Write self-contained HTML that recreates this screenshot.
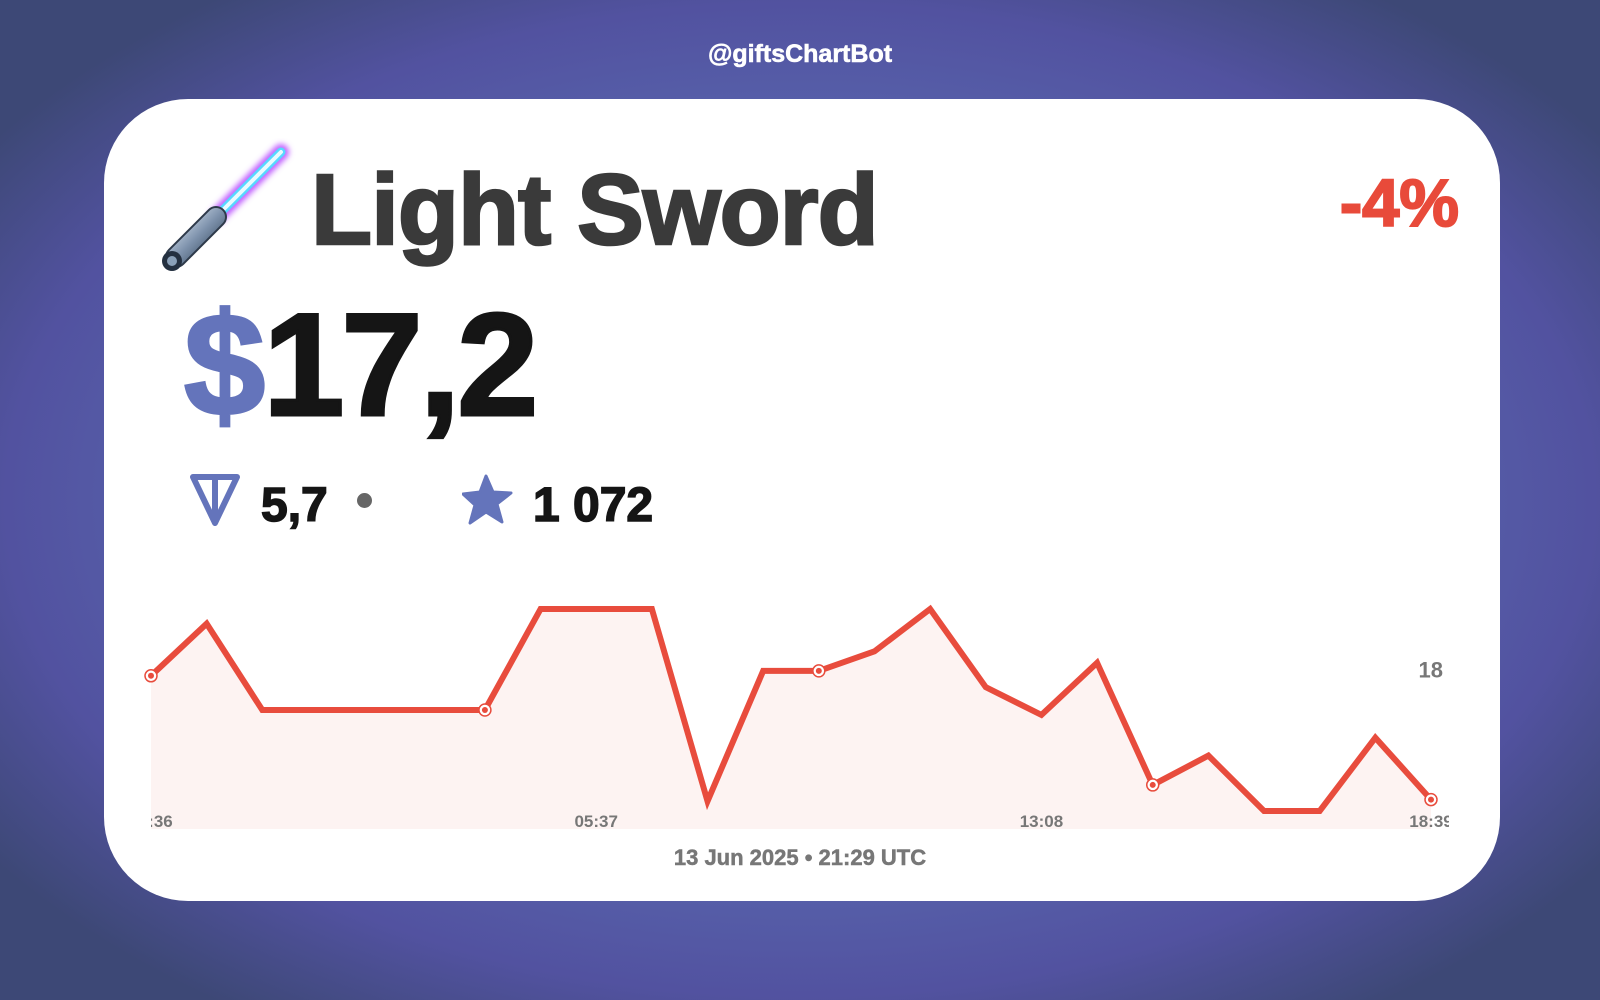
<!DOCTYPE html>
<html><head><meta charset="utf-8">
<style>
html,body{margin:0;padding:0;width:1600px;height:1000px;overflow:hidden}
body{background:radial-gradient(ellipse 62% 62% at 50% 50%,#5d6cb2 0%,#5865ad 55%,#5252a0 80%,#3d4876 100%);font-family:"Liberation Sans",sans-serif;position:relative}
.abs{position:absolute}
#card{left:104px;top:99px;width:1396px;height:802px;background:#fff;border-radius:84px}
</style></head>
<body>
<div class="abs" style="left:0;width:1600px;top:40px;text-align:center;color:#fff;font-weight:bold;font-size:25px;-webkit-text-stroke:0.6px #fff">@giftsChartBot</div>
<div id="card" class="abs"></div>
<svg class="abs" style="left:150px;top:138px" width="150" height="140">
  <defs><filter id="gl" x="-50%" y="-50%" width="200%" height="200%"><feGaussianBlur stdDeviation="3"/></filter>
  <linearGradient id="hg" x1="0" y1="0" x2="1" y2="1"><stop offset="0" stop-color="#d8e2ee"/><stop offset="0.5" stop-color="#7f93ad"/><stop offset="1" stop-color="#33475e"/></linearGradient></defs>
  <line x1="131" y1="14" x2="67" y2="78" stroke="#c060ff" stroke-width="16" stroke-linecap="round" filter="url(#gl)"/>
  <line x1="131" y1="14" x2="67" y2="78" stroke="#56d8ff" stroke-width="9" stroke-linecap="round"/>
  <line x1="131" y1="14" x2="67" y2="78" stroke="#e8fbff" stroke-width="4" stroke-linecap="round"/>
  <line x1="66" y1="79" x2="26" y2="119" stroke="#2e3a4a" stroke-width="22" stroke-linecap="round"/>
  <line x1="66" y1="79" x2="26" y2="119" stroke="url(#hg)" stroke-width="18" stroke-linecap="round"/>
  <circle cx="22" cy="123" r="10" fill="#243040"/><circle cx="22" cy="123" r="5" fill="#8aa0b8"/>
</svg>
<div class="abs" style="left:311px;top:150px;font-size:100px;font-weight:bold;color:#3a3a3a;letter-spacing:-1px;line-height:120px;-webkit-text-stroke:2.5px #3a3a3a">Light Sword</div>
<div class="abs" style="right:141px;top:164px;font-size:67px;font-weight:bold;color:#e84a3a;line-height:80px;-webkit-text-stroke:2px #e84a3a">-4%</div>
<div class="abs" style="left:184px;top:290px;font-size:146px;font-weight:bold;line-height:150px;letter-spacing:-3px;color:#151515;-webkit-text-stroke:3px #151515"><span style="color:#6474bb;-webkit-text-stroke:3px #6474bb;letter-spacing:-2px">$</span>17,2</div>
<svg class="abs" style="left:188px;top:473px" width="54" height="54">
  <path d="M5 4 H49 L27 50 Z" fill="none" stroke="#6474bb" stroke-width="6" stroke-linejoin="round"/>
  <line x1="27" y1="5" x2="27" y2="48" stroke="#6474bb" stroke-width="6"/>
</svg>
<div class="abs" style="left:261px;top:478px;font-size:48px;font-weight:bold;color:#151515;line-height:56px;-webkit-text-stroke:1.5px #151515">5,7</div>
<div class="abs" style="left:357px;top:493px;width:15px;height:15px;border-radius:50%;background:#666"></div>
<svg class="abs" style="left:462px;top:474px" width="52" height="52">
  <path d="M24 2 L31 18 L49 19 L35 30 L40 48 L24 38 L8 49 L13 31 L1 20 L18 18 Z" fill="#6474bb" stroke="#6474bb" stroke-width="3" stroke-linejoin="round"/>
</svg>
<div class="abs" style="left:533px;top:478px;font-size:48px;font-weight:bold;color:#151515;line-height:56px;-webkit-text-stroke:1.5px #151515">1 072</div>
<svg id="chart" class="abs" style="left:0;top:0" width="1600" height="1000"></svg>
<div class="abs" style="left:0;width:1600px;top:845px;text-align:center;font-size:22px;font-weight:bold;color:#777;-webkit-text-stroke:0.5px #777">13 Jun 2025 • 21:29 UTC</div>
<script>
const prices=[17.96,18.28,17.75,17.75,17.75,17.75,17.75,18.37,18.37,18.37,17.19,17.99,17.99,18.11,18.37,17.89,17.72,18.04,17.29,17.47,17.13,17.13,17.58,17.2];
const markerIdx=[0,6,12,18,23];
const tickIdx=[0,8,16,23];
const tickLabels=["22:36","05:37","13:08","18:39"];
const yTickValues=[18];
const yTickLabels=["18"];
const NS="http://www.w3.org/2000/svg";
const svg=document.getElementById('chart');
const X0=151,X1=1431,YMAX=609,YMIN=811,BOTTOM=829;
const vmin=Math.min(...prices),vmax=Math.max(...prices);
const x=i=>X0+(X1-X0)*i/(prices.length-1);
const y=v=>YMIN-(v-vmin)/(vmax-vmin)*(YMIN-YMAX);
function mk(t,a){const e=document.createElementNS(NS,t);for(const k in a)e.setAttribute(k,a[k]);svg.appendChild(e);return e;}
const clip=mk('clipPath',{id:'cp'});
const cr=document.createElementNS(NS,'rect');cr.setAttribute('x',X0);cr.setAttribute('y',500);cr.setAttribute('width',X1-X0+18);cr.setAttribute('height',400);clip.appendChild(cr);
let pts=prices.map((v,i)=>x(i)+','+y(v)).join(' ');
const area=mk('polygon',{points:X0+','+BOTTOM+' '+pts+' '+X1+','+BOTTOM,fill:'#fdf3f2'});


tickIdx.forEach((ti,k)=>{const t=mk('text',{x:x(ti),y:827,'text-anchor':'middle','font-size':17,'font-weight':'bold',fill:'#777','font-family':'Liberation Sans, sans-serif','clip-path':'url(#cp)'});t.textContent=tickLabels[k];

});
const line=mk('polyline',{points:pts,fill:'none',stroke:'#e84c3d','stroke-width':6,'stroke-linejoin':'miter'});


markerIdx.forEach(i=>{const g=mk('circle',{cx:x(i),cy:y(prices[i]),r:6,fill:'#fff',stroke:'#e84c3d','stroke-width':1.5});


mk('circle',{cx:x(i),cy:y(prices[i]),r:3,fill:'#e84c3d'});});
yTickValues.forEach((v,k)=>{const t=mk('text',{x:1443,y:y(v)+8,'text-anchor':'end','font-size':22,'font-weight':'bold',fill:'#777','font-family':'Liberation Sans, sans-serif'});t.textContent=yTickLabels[k];

});
</script>
</body></html>
